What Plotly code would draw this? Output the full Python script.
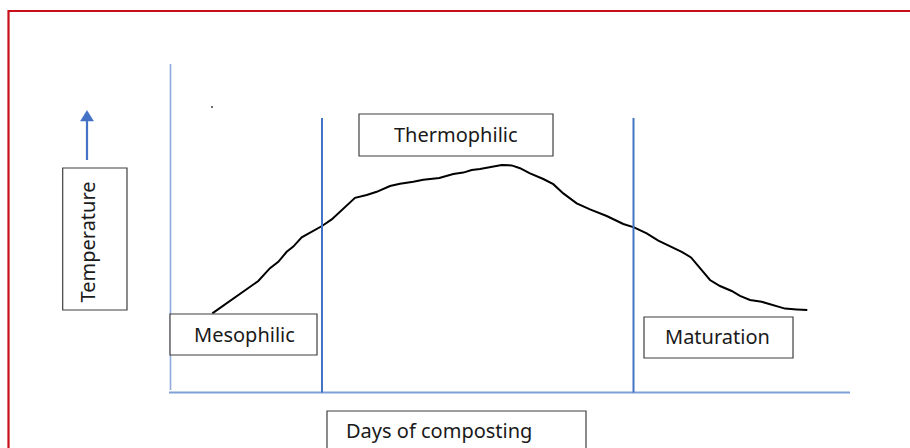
import plotly.graph_objects as go

# ---- data (days of composting vs. relative temperature) ----
days = [4.23, 7.33, 8.83, 10.0, 10.83, 11.67, 12.33, 13.17, 14.33, 15.2, 16.17, 17.33,
        18.5, 19.67, 20.67, 22.0, 23.0, 24.33, 25.33, 26.93, 28.33, 29.33, 30.17, 31.0,
        32.33, 33.17, 34.17, 35.0, 36.0, 37.33, 38.33, 39.33, 40.67, 42.0, 43.67, 45.33,
        46.4, 47.67, 48.83, 50.0, 51.17, 52.1, 53.0, 54.0, 55.0, 56.17, 57.0, 58.0,
        59.17, 60.33, 61.5, 62.67, 63.73]
temperature = [19.9, 25.3, 28.0, 31.2, 32.8, 35.3, 36.6, 38.9, 40.5, 41.75, 43.4, 46.2,
               48.8, 49.5, 50.3, 51.75, 52.3, 52.8, 53.3, 53.75, 54.75, 55.1, 55.75, 56.0,
               56.6, 57.0, 56.9, 56.2, 54.9, 53.5, 52.2, 49.9, 47.4, 45.9, 44.25, 42.25,
               41.4, 39.9, 38.1, 36.75, 35.3, 33.9, 31.2, 28.25, 26.75, 25.5, 24.3, 23.25,
               22.8, 22.0, 21.1, 20.9, 20.75]
phase_boundaries = [15.2, 46.35]
phase_names = ["Mesophilic", "Thermophilic", "Maturation"]
x_title = "Days of composting"
y_title = "Temperature"

FONT = "Noto Sans"
BLUE = "#4472C4"
LIGHTBLUE = "#8FAADC"
BOXLINE = "#3F3F3F"

fig = go.Figure()
fig.add_trace(go.Scatter(x=days, y=temperature, mode="lines",
                         line=dict(color="black", width=2), hoverinfo="skip",
                         showlegend=False))

shapes = []
# red frame
shapes.append(dict(type="rect", x0=-16.15, x1=85, y0=95.5, y1=-30,
                   line=dict(color="#C8101A", width=2.2)))
# axes
shapes.append(dict(type="line", x0=0.05, x1=0.05, y0=82.25, y1=0.75,
                   line=dict(color=LIGHTBLUE, width=1.6)))
shapes.append(dict(type="line", x0=-0.1, x1=68, y0=0.125, y1=0.125,
                   line=dict(color="#7F9FD8", width=2)))
# phase boundaries
for b in phase_boundaries:
    shapes.append(dict(type="line", x0=b, x1=b, y0=68.75, y1=0.125,
                       line=dict(color=BLUE, width=2)))
# boxes
boxes = [(-10.73, -4.3, 56.25, 20.75),   # temperature
         (0.0, 14.7, 19.75, 9.5),        # mesophilic
         (18.9, 38.3, 69.75, 59.25),     # thermophilic
         (47.4, 62.3, 19.0, 8.75),       # maturation
         (15.7, 41.6, -4.5, -20.0)]      # days
for x0, x1, y0, y1 in boxes:
    shapes.append(dict(type="rect", x0=x0, x1=x1, y0=y0, y1=y1,
                       line=dict(color=BOXLINE, width=1.2), fillcolor="white"))
# arrow
shapes.append(dict(type="line", x0=-8.3, x1=-8.3, y0=58.25, y1=68.2,
                   line=dict(color=BLUE, width=2.2)))
shapes.append(dict(type="path", path="M -8.95,68 L -7.65,68 L -8.3,70.6 Z",
                   fillcolor=BLUE, line=dict(color=BLUE, width=0.5)))
# stray dot
shapes.append(dict(type="circle", x0=4.13, x1=4.27, y0=71.65, y1=71.35,
                   fillcolor="black", line=dict(color="black", width=0.5)))
fig.update_layout(shapes=shapes)

ann = []
tf = dict(family=FONT, size=20, color="#1a1a1a")
ann.append(dict(x=7.45, y=14.6, text=phase_names[0], showarrow=False, font=tf))
ann.append(dict(x=28.6, y=64.7, text=phase_names[1], showarrow=False, font=tf))
ann.append(dict(x=54.7, y=14.1, text=phase_names[2], showarrow=False, font=tf))
ann.append(dict(x=17.4, y=-9.3, text=x_title, showarrow=False, font=tf, xanchor="left"))
ann.append(dict(x=-8.35, y=37.75, text=y_title, showarrow=False, font=tf, textangle=-90))
fig.update_layout(annotations=ann)

fig.update_layout(
    width=910, height=448,
    margin=dict(l=0, r=0, t=0, b=0),
    paper_bgcolor="white", plot_bgcolor="white",
    xaxis=dict(range=[-17, 74], visible=False, fixedrange=True),
    yaxis=dict(range=[-13.75, 98.25], visible=False, fixedrange=True),
    showlegend=False,
)
fig.write_html("out.html", config={"displayModeBar": False},
               post_script="document.body.style.margin='0';document.body.style.overflow='hidden';")
